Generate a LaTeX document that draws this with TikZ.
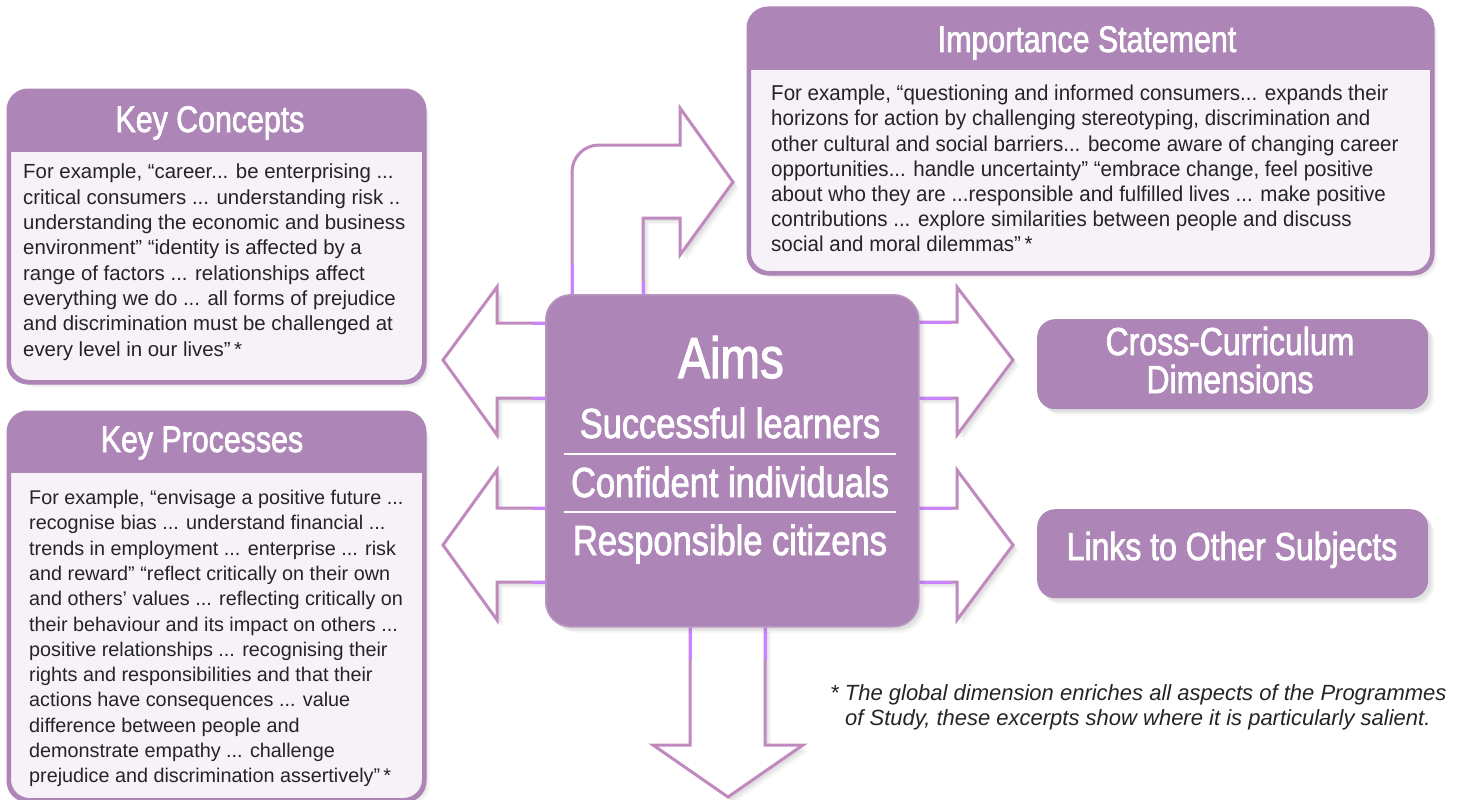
\documentclass[tikz,border=0pt]{standalone}
\usepackage{fontspec}
\setmainfont{Liberation Sans}
\newfontfamily\condf[FakeStretch=0.82,FakeBold=1.8]{Liberation Sans}
\newfontfamily\narrowf[FakeStretch=0.955]{Liberation Sans}
\usetikzlibrary{shadows}
\definecolor{pur}{RGB}{173,133,182}
\definecolor{arr}{RGB}{192,138,190}
\definecolor{vio}{RGB}{202,130,255}
\definecolor{pale}{RGB}{246,242,248}
\definecolor{txt}{RGB}{36,36,36}
\begin{document}
\begin{tikzpicture}[x=1pt,y=-1pt,
  shade/.style={drop shadow={shadow xshift=6pt,shadow yshift=-6pt,opacity=0.06},
                drop shadow={shadow xshift=4.5pt,shadow yshift=-4.5pt,opacity=0.08},
                drop shadow={shadow xshift=3pt,shadow yshift=-3pt,opacity=0.1}},
  panel/.style={draw=pur,line width=3pt,fill=pale,rounded corners=20pt,shade,inner sep=0pt,anchor=north west},
  tagbox/.style={fill=pur,rounded corners=18pt,shade,inner sep=0pt,anchor=north west},
  arrowshape/.style={draw=arr,line width=3pt,fill=white,line join=miter,shade},
  glow/.style={draw=vio,line width=3pt},
  head/.style={text=white,font=\condf\fontsize{37}{40}\selectfont,inner sep=0pt,anchor=base},
  tagtext/.style={text=white,font=\condf\fontsize{39}{38}\selectfont,inner sep=0pt,anchor=base,align=center},
  aimtext/.style={text=white,font=\condf\fontsize{42}{44}\selectfont,inner sep=0pt,anchor=base},
  body/.style={text=txt,align=left,inner sep=0pt,anchor=north west},
  nbody/.style={text=txt,font=\narrowf\fontsize{21.5}{25.2}\selectfont,align=left,inner sep=0pt,anchor=north west},
  foot/.style={text=txt,font=\itshape\fontsize{22}{25}\selectfont,align=left,inner sep=0pt,anchor=base west}]

\fill[white] (0,0) rectangle (1467,800);
\useasboundingbox (0,0) rectangle (1467,800);

% ---------- block arrows ----------
% top bent arrow
\draw[arrowshape] (572,294) -- (572,172) arc[start angle=180,end angle=270,radius=27] -- (680,145) -- (680,108) -- (733,182) -- (680,255) -- (680,218) -- (643,218) -- (643,294);
\draw[glow] (572,264) -- (572,294);
\draw[glow] (643,282) -- (643,294);
% left upper
\draw[arrowshape] (545,323) -- (497,323) -- (497,287) -- (443,360) -- (497,435) -- (497,398) -- (545,398);
\draw[glow] (533,323) -- (545,323);
\draw[glow] (533,398) -- (545,398);
% left lower
\draw[arrowshape] (545,508) -- (497,508) -- (497,470) -- (443,545) -- (497,620) -- (497,582) -- (545,582);
\draw[glow] (533,508) -- (545,508);
\draw[glow] (533,582) -- (545,582);
% right upper
\draw[arrowshape] (918,322) -- (957,322) -- (957,287) -- (1013,360) -- (957,435) -- (957,398) -- (918,398);
\draw[glow] (918,322) -- (952,322);
\draw[glow] (918,398) -- (952,398);
% right lower
\draw[arrowshape] (918,508) -- (957,508) -- (957,470) -- (1013,545) -- (957,620) -- (957,582) -- (918,582);
\draw[glow] (918,508) -- (952,508);
\draw[glow] (918,582) -- (952,582);
% bottom
\draw[arrowshape] (690,626) -- (690,745) -- (653,745) -- (728,797) -- (803,745) -- (765,745) -- (765,626);
\draw[glow] (690,626) -- (690,660);
\draw[glow] (765,626) -- (765,660);

% ---------- Aims ----------
\node[fill=pur,draw=pur!85!white,line width=1.5pt,rounded corners=25pt,shade,minimum width=373pt,minimum height=332pt,inner sep=0pt,anchor=north west] (aims) at (545,294) {};
\node[text=white,font=\condf\fontsize{58}{60}\selectfont,inner sep=0pt,anchor=base] (aimst) at (731,378) {Aims};
\node[aimtext] (sl) at (730,438) {Successful learners};
\node[aimtext] (ci) at (730,497) {Confident individuals};
\node[aimtext] (rc) at (730,555) {Responsible citizens};
\coordinate (l1a) at (564,454); \coordinate (l1b) at (896,454);
\coordinate (l2a) at (564,512); \coordinate (l2b) at (896,512);
\draw[white,line width=1.2pt] (l1a) -- (l1b);
\draw[white,line width=1.2pt] (l2a) -- (l2b);

% ---------- Key Concepts ----------
\node[panel,minimum width=414pt,minimum height=290pt] (kc) at (8,90) {};
\begin{scope}
\clip[rounded corners=20pt] (kc.north west) rectangle (kc.south east);
\fill[pur] (kc.north west) rectangle (422,152);
\end{scope}
\draw[pur,line width=3pt,rounded corners=20pt] (kc.north west) rectangle (kc.south east);
\node[head] (kch) at (210,132) {Key Concepts};
\node[body,font=\fontsize{20.4}{25.3}\selectfont] (kct) at (23,164) {For example, “career... be enterprising ...\\
critical consumers ... understanding risk ..\\
understanding the economic and business\\
environment” “identity is affected by a\\
range of factors ... relationships affect\\
everything we do ... all forms of prejudice\\
and discrimination must be challenged at\\
every level in our lives”\,*};

% ---------- Key Processes ----------
\node[panel,minimum width=414pt,minimum height=386pt] (kp) at (8,412) {};
\begin{scope}
\clip[rounded corners=20pt] (kp.north west) rectangle (kp.south east);
\fill[pur] (kp.north west) rectangle (422,473);
\end{scope}
\draw[pur,line width=3pt,rounded corners=20pt] (kp.north west) rectangle (kp.south east);
\node[head] (kph) at (202,452) {Key Processes};
\node[body,font=\fontsize{19.8}{25.3}\selectfont] (kpt) at (29,490) {For example, “envisage a positive future ...\\
recognise bias ... understand financial ...\\
trends in employment ... enterprise ... risk\\
and reward” “reflect critically on their own\\
and others’ values ... reflecting critically on\\
their behaviour and its impact on others ...\\
positive relationships ... recognising their\\
rights and responsibilities and that their\\
actions have consequences ... value\\
difference between people and\\
demonstrate empathy ... challenge\\
prejudice and discrimination assertively”\,*};

% ---------- Importance Statement ----------
\node[panel,minimum width=682pt,minimum height=263pt] (is) at (748,8) {};
\begin{scope}
\clip[rounded corners=20pt] (is.north west) rectangle (is.south east);
\fill[pur] (is.north west) rectangle (1430,70);
\end{scope}
\draw[pur,line width=3pt,rounded corners=20pt] (is.north west) rectangle (is.south east);
\node[head] (ish) at (1087,52) {Importance Statement};
\node[nbody] (ist) at (771,85) {For example, “questioning and informed consumers... expands their\\
horizons for action by challenging stereotyping, discrimination and\\
other cultural and social barriers... become aware of changing career\\
opportunities... handle uncertainty” “embrace change, feel positive\\
about who they are ...responsible and fulfilled lives ... make positive\\
contributions ... explore similarities between people and discuss\\
social and moral dilemmas”\,*};

% ---------- right tags ----------
\node[tagbox,minimum width=391pt,minimum height=90pt] (ccd) at (1037,319) {};
\node[tagtext] (ccdt1) at (1230,355) {Cross-Curriculum};
\node[tagtext] (ccdt2) at (1230,393) {Dimensions};
\node[tagbox,minimum width=391pt,minimum height=89pt] (lts) at (1037,509) {};
\node[tagtext] (ltst) at (1232,560) {Links to Other Subjects};

% ---------- footnote ----------
\node[foot] (fn1) at (830,700) {* The global dimension enriches all aspects of the Programmes};
\node[foot] (fn2) at (845,725) {of Study, these excerpts show where it is particularly salient.};
\end{tikzpicture}
\end{document}
